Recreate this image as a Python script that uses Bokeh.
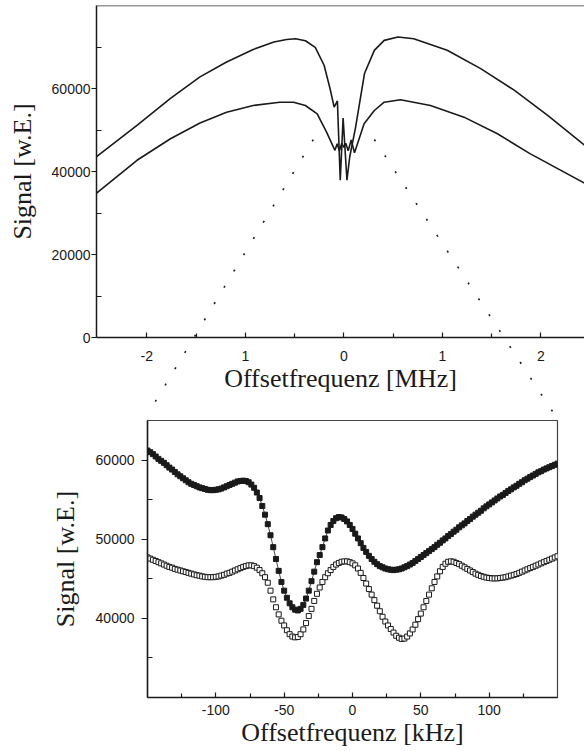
import numpy as np
from bokeh.plotting import figure
from bokeh.models import Range1d, FixedTicker, Span
from bokeh.embed import file_html
from bokeh.resources import INLINE

# ---------------- data: overview (MHz) ----------------
top_upper_x = [-2.51, -2.1, -1.76, -1.46, -1.19, -0.92, -0.71, -0.58, -0.49, -0.39, -0.29, -0.2,
               -0.14, -0.098, -0.065, -0.036, -0.007, 0.032, 0.06, 0.12, 0.21, 0.31, 0.41, 0.55,
               0.71, 1.05, 1.39, 1.73, 2.07, 2.5]
top_upper_y = [43600, 51100, 57600, 62800, 66400, 69400, 71200, 71800, 72000, 71500, 69900, 65600,
               60000, 55500, 57000, 37900, 52900, 37900, 43500, 50700, 63600, 69200, 71600, 72400,
               72000, 69200, 64800, 59600, 53500, 45300]

top_lower_x = [-2.51, -2.1, -1.76, -1.46, -1.19, -0.92, -0.65, -0.51, -0.39, -0.27, -0.175, -0.09,
               -0.067, -0.045, -0.02, 0.0, 0.02, 0.045, 0.075, 0.109, 0.206, 0.31, 0.41, 0.576,
               0.88, 1.22, 1.56, 1.89, 2.5]
top_lower_y = [34800, 42700, 47900, 51700, 54300, 55900, 56700, 56700, 55900, 53900, 49500, 45100,
               46700, 45000, 46800, 45800, 46800, 45000, 47600, 44500, 51500, 54700, 56700, 57300,
               55900, 53100, 49100, 44300, 36500]

# ---------------- data: zoom (kHz) ----------------
zoom_x = list(range(-150, 151, 2))
zoom_filled = [
    61.2, 61.0, 60.75, 60.45, 60.15, 59.9, 59.65, 59.35, 59.05, 58.8,
    58.5, 58.2, 57.95, 57.7, 57.45, 57.2, 57.0, 56.85, 56.7, 56.55,
    56.45, 56.35, 56.25, 56.2, 56.2, 56.25, 56.3, 56.4, 56.55, 56.7,
    56.85, 57.0, 57.15, 57.3, 57.35, 57.4, 57.35, 57.2, 56.9, 56.5,
    55.9, 55.2, 54.2, 53.1, 51.9, 50.5, 49.0, 47.5, 46.0, 44.6,
    43.5, 42.6, 41.9, 41.4, 41.1, 41.0, 41.2, 41.7, 42.5, 43.5,
    44.7, 45.9, 47.1, 48.0, 49.0, 50.1, 51.1, 51.8, 52.3, 52.65,
    52.8, 52.75, 52.55, 52.25, 51.8, 51.3, 50.7, 50.1, 49.5, 48.9,
    48.4, 47.9, 47.5, 47.15, 46.85, 46.6, 46.45, 46.3, 46.2, 46.15,
    46.1, 46.15, 46.2, 46.3, 46.45, 46.6, 46.8, 47.0, 47.25, 47.5,
    47.75, 48.0, 48.25, 48.5, 48.75, 49.0, 49.3, 49.55, 49.85, 50.1,
    50.4, 50.65, 50.95, 51.2, 51.5, 51.75, 52.0, 52.3, 52.55, 52.85,
    53.1, 53.35, 53.6, 53.9, 54.15, 54.4, 54.65, 54.9, 55.15, 55.4,
    55.6, 55.85, 56.1, 56.3, 56.55, 56.75, 57.0, 57.2, 57.45, 57.65,
    57.85, 58.05, 58.25, 58.45, 58.6, 58.8, 58.95, 59.1, 59.25, 59.4,
    59.55]
zoom_open = [
    47.7, 47.55, 47.4, 47.25, 47.1, 46.95, 46.8, 46.65, 46.5, 46.4,
    46.25, 46.15, 46.05, 45.95, 45.85, 45.75, 45.65, 45.55, 45.45, 45.4,
    45.3, 45.25, 45.2, 45.2, 45.2, 45.25, 45.3, 45.4, 45.5, 45.65,
    45.75, 45.9, 46.05, 46.2, 46.35, 46.5, 46.6, 46.7, 46.7, 46.6,
    46.4, 46.1, 45.7, 45.2, 44.5, 43.5, 42.4, 41.4, 40.5, 39.7,
    39.1, 38.5, 38.0, 37.7, 37.6, 37.65, 38.0, 38.6, 39.4, 40.3,
    41.2, 42.2, 43.1, 43.9, 44.6, 45.2, 45.7, 46.1, 46.5, 46.8,
    47.0, 47.15, 47.2, 47.2, 47.1, 46.95, 46.7, 46.3, 45.75, 45.1,
    44.4, 43.7, 43.0, 42.3, 41.6, 40.9, 40.2, 39.6, 39.1, 38.65,
    38.2, 37.8, 37.55, 37.4, 37.45, 37.7, 38.1, 38.6, 39.2, 39.9,
    40.6, 41.4, 42.2, 43.0, 43.8, 44.6, 45.3, 45.95, 46.5, 46.9,
    47.15, 47.2, 47.15, 47.0, 46.85, 46.65, 46.45, 46.25, 46.05, 45.85,
    45.65, 45.5, 45.35, 45.25, 45.15, 45.1, 45.05, 45.05, 45.05, 45.1,
    45.15, 45.2, 45.3, 45.4, 45.5, 45.6, 45.75, 45.9, 46.05, 46.2,
    46.35, 46.5, 46.65, 46.8, 46.95, 47.1, 47.25, 47.4, 47.55, 47.7,
    47.85]
zoom_filled = [v * 1000 for v in zoom_filled]
zoom_open = [v * 1000 for v in zoom_open]

# tick labels as printed
top_x_ticks = [-2, -1, 0, 1, 2]
top_x_labels = ["-2", "1", "0", "1", "2"]
top_y_ticks = [0, 20000, 40000, 60000]
bot_x_ticks = [-100, -50, 0, 50, 100]
bot_x_labels = ["-100", "-50", "0", "50", "100"]
bot_y_ticks = [40000, 50000, 60000]

# zoom window marked in the overview (MHz, signal) -> corners of the zoom plot
zoom_mark_x = [-0.31, 0.31]
zoom_mark_y = 47700

SERIF = "Liberation Serif"
SANS = "Liberation Sans"
INK = "#1a1a1a"

# ---------------- geometry ----------------
W = 584
TOP_H, BOT_H = 418, 332
TOP_L, TOP_T, TOP_B = 96, 5, 81          # borders of the overview plot
BOT_L, BOT_R, BOT_T, BOT_B = 147, 27, 2, 53
TOP_X = (-2.511, 2.444)
TOP_Y = (0, 80000)
BOT_X = (-150, 150)
BOT_Y = (30000, 65000)


def style_axes(p):
    for ax in (p.xaxis[0], p.yaxis[0]):
        ax.axis_line_width = 1.5
        ax.axis_line_color = INK
        ax.major_tick_line_color = INK
        ax.minor_tick_line_color = INK
        ax.major_tick_line_width = 1.2
        ax.minor_tick_line_width = 1.2
        ax.major_label_text_font = SANS
        ax.major_label_text_font_size = "14px"
        ax.major_label_text_color = INK
        ax.axis_label_text_font = SERIF
        ax.axis_label_text_font_size = "26px"
        ax.axis_label_text_font_style = "normal"
        ax.axis_label_text_color = INK
    xa, ya = p.xaxis[0], p.yaxis[0]
    xa.major_tick_in = 5
    xa.major_tick_out = 0
    xa.minor_tick_in = 4
    xa.minor_tick_out = 0
    ya.major_tick_in = 0
    ya.major_tick_out = 5
    ya.minor_tick_in = 5
    ya.minor_tick_out = 0
    p.xgrid.visible = False
    p.ygrid.visible = False


# ---------------- top figure ----------------
top = figure(width=W, height=TOP_H, output_backend="svg", toolbar_location=None,
             x_range=Range1d(*TOP_X), y_range=Range1d(*TOP_Y),
             min_border_left=TOP_L, min_border_right=0, min_border_top=TOP_T,
             min_border_bottom=TOP_B)
top.outline_line_color = None
top.line(top_upper_x, top_upper_y, line_color=INK, line_width=1.6)
top.line(top_lower_x, top_lower_y, line_color=INK, line_width=1.6)
top.xaxis.ticker = FixedTicker(ticks=top_x_ticks, minor_ticks=[-1.5, -0.5, 0.5, 1.5])
top.xaxis.major_label_overrides = dict(zip(top_x_ticks, top_x_labels))
top.yaxis.ticker = FixedTicker(ticks=top_y_ticks, minor_ticks=[10000, 30000, 50000, 70000])
top.xaxis.axis_label = "Offsetfrequenz [MHz]"
top.yaxis.axis_label = "Signal [w.E.]"
style_axes(top)
top.xaxis.major_label_standoff = 13
top.xaxis.axis_label_standoff = 0
top.yaxis.major_label_standoff = 1
top.yaxis.axis_label_standoff = 12
top.add_layout(Span(location=TOP_Y[1], dimension="width", line_color="#333333", line_width=1.5))

# ---------------- bottom figure ----------------
bot = figure(width=W, height=BOT_H, output_backend="svg", toolbar_location=None,
             x_range=Range1d(*BOT_X), y_range=Range1d(*BOT_Y),
             min_border_left=BOT_L, min_border_right=BOT_R, min_border_top=BOT_T,
             min_border_bottom=BOT_B)
bot.outline_line_color = "#444444"
bot.outline_line_width = 1.2
bot.line(zoom_x, zoom_filled, line_color=INK, line_width=0.8)
bot.scatter(zoom_x, zoom_filled, marker="square", size=5, fill_color=INK, line_color=INK)
bot.scatter(zoom_x, zoom_open, marker="square", size=5, fill_color="white",
            line_color=INK, line_width=1)
bot.xaxis.ticker = FixedTicker(ticks=bot_x_ticks, minor_ticks=[-125, -75, -25, 25, 75, 125])
bot.xaxis.major_label_overrides = dict(zip(bot_x_ticks, bot_x_labels))
bot.yaxis.ticker = FixedTicker(ticks=bot_y_ticks, minor_ticks=[35000, 45000, 55000])
bot.xaxis.axis_label = "Offsetfrequenz [kHz]"
bot.yaxis.axis_label = "Signal [w.E.]"
style_axes(bot)
bot.yaxis.major_tick_out = 6
bot.xaxis.major_label_standoff = 7
bot.xaxis.axis_label_standoff = 0
bot.yaxis.major_label_standoff = 7
bot.yaxis.axis_label_standoff = 13

# ---------------- overlay with the dotted zoom-indicator lines ----------------
def top_px(x, y):
    fw = W - TOP_L
    fh = TOP_H - TOP_T - TOP_B
    px = TOP_L + (x - TOP_X[0]) / (TOP_X[1] - TOP_X[0]) * fw
    py = TOP_T + (TOP_Y[1] - y) / (TOP_Y[1] - TOP_Y[0]) * fh
    return px, py


start_pts = [top_px(x, zoom_mark_y) for x in zoom_mark_x]
end_pts = [(BOT_L, TOP_H + BOT_T - 6), (W - BOT_R - 3, TOP_H + BOT_T - 6)]

H_ALL = TOP_H + BOT_H
ov = figure(width=W, height=H_ALL, output_backend="svg", toolbar_location=None,
            x_range=Range1d(0, W), y_range=Range1d(H_ALL, 0),
            x_axis_location=None, y_axis_location=None, min_border=0,
            styles={"position": "absolute", "top": "0px", "left": "0px"})
ov.grid.visible = False
ov.outline_line_color = None
ov.background_fill_color = None
ov.border_fill_color = None
ov.segment(x0=[s[0] for s in start_pts], y0=[s[1] for s in start_pts],
           x1=[e[0] for e in end_pts], y1=[e[1] for e in end_pts],
           line_color=INK, line_width=1.6, line_dash="2 17")

open("out.html", "w").write(file_html([top, bot, ov], INLINE))
